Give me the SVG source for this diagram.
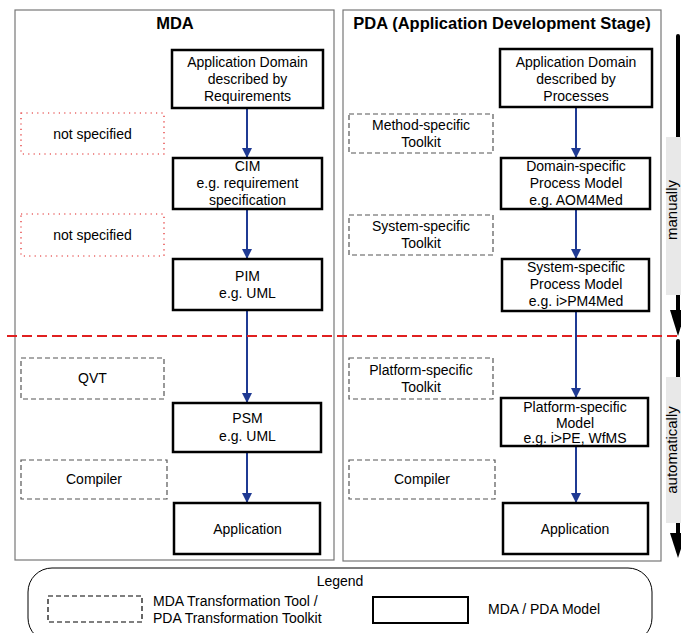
<svg xmlns="http://www.w3.org/2000/svg" width="681" height="633" viewBox="0 0 681 633">
<style>
text{font-family:"Liberation Sans",Arial,sans-serif;font-size:14px;fill:#000;text-anchor:middle}
.title{font-weight:bold;font-size:16.5px}
.panel{fill:none;stroke:#777;stroke-width:1.2}
.node{fill:#fff;stroke:#000;stroke-width:2.5}
.tool{fill:#fff;stroke:#555;stroke-width:1.2;stroke-dasharray:5 3}
.ns{fill:#fff;stroke:#e02020;stroke-width:1.2;stroke-dasharray:1.2 4.2}
.flow{stroke:#1f3a93;stroke-width:2;fill:none;marker-end:url(#ah)}
.bar{stroke:#000;stroke-width:4;stroke-linecap:round}
.lab{fill:#e8e8e8}
.side{font-size:15px}
.lt{text-anchor:start}
</style>
<defs>
<marker id="ah" viewBox="0 0 10 10" refX="10" refY="5" markerWidth="5" markerHeight="5" orient="auto" markerUnits="strokeWidth">
<path d="M0,0 L10,5 L0,10 z" fill="#1f3a93"/>
</marker>
</defs>
<rect width="681" height="633" fill="#fff"/>
<g id="panel-mda">
<rect class="panel" x="15" y="10" width="319" height="550"/>
<text class="title" x="175" y="29">MDA</text>
</g>
<g id="panel-pda">
<rect class="panel" x="343" y="10" width="318" height="551"/>
<text class="title" x="502" y="29">PDA (Application Development Stage)</text>
</g>
<g id="connectors">
<line class="flow" x1="247" y1="108" x2="247" y2="158"/>
<line class="flow" x1="247" y1="209" x2="247" y2="259"/>
<line class="flow" x1="247" y1="310" x2="247" y2="403"/>
<line class="flow" x1="247" y1="452" x2="247" y2="503"/>
<line class="flow" x1="576" y1="107" x2="576" y2="158"/>
<line class="flow" x1="576" y1="209" x2="576" y2="259"/>
<line class="flow" x1="576" y1="311" x2="576" y2="398"/>
<line class="flow" x1="576" y1="446" x2="576" y2="503"/>
</g>
<g id="mda-domain"><rect class="node" x="172" y="50" width="151" height="58"/>
<text x="247.5" y="67">Application Domain</text><text x="247.5" y="84">described by</text><text x="247.5" y="101">Requirements</text></g>
<g id="mda-cim"><rect class="node" x="173" y="158" width="149" height="51"/>
<text x="247.5" y="171">CIM</text><text x="247.5" y="188">e.g. requirement</text><text x="247.5" y="205">specification</text></g>
<g id="mda-pim"><rect class="node" x="173" y="259" width="149" height="51"/>
<text x="247.5" y="281">PIM</text><text x="247.5" y="298">e.g. UML</text></g>
<g id="mda-psm"><rect class="node" x="173" y="403" width="148" height="49"/>
<text x="247.5" y="423">PSM</text><text x="247.5" y="441">e.g. UML</text></g>
<g id="mda-app"><rect class="node" x="174" y="503" width="146" height="51"/>
<text x="247.5" y="534">Application</text></g>
<g id="mda-ns1"><rect class="ns" x="21" y="113" width="143" height="41"/><text x="92.5" y="139">not specified</text></g>
<g id="mda-ns2"><rect class="ns" x="21" y="214" width="143" height="42"/><text x="92.5" y="240">not specified</text></g>
<g id="mda-qvt"><rect class="tool" x="21" y="358" width="143" height="41"/><text x="92.5" y="383">QVT</text></g>
<g id="mda-compiler"><rect class="tool" x="21" y="460" width="146" height="39"/><text x="94" y="484">Compiler</text></g>
<g id="pda-domain"><rect class="node" x="500" y="49" width="152" height="58"/>
<text x="576" y="67">Application Domain</text><text x="576" y="84">described by</text><text x="576" y="101">Processes</text></g>
<g id="pda-dspm"><rect class="node" x="501" y="158" width="149" height="51"/>
<text x="576" y="171">Domain-specific</text><text x="576" y="188">Process Model</text><text x="576" y="205">e.g. AOM4Med</text></g>
<g id="pda-sspm"><rect class="node" x="502" y="259" width="147" height="52"/>
<text x="576" y="272">System-specific</text><text x="576" y="289">Process Model</text><text x="576" y="306">e.g. i&gt;PM4Med</text></g>
<g id="pda-psm"><rect class="node" x="501" y="398" width="147" height="48"/>
<text x="575" y="412">Platform-specific</text><text x="575" y="428">Model</text><text x="575" y="443">e.g. i&gt;PE, WfMS</text></g>
<g id="pda-app"><rect class="node" x="503" y="503" width="145" height="51"/>
<text x="575" y="534">Application</text></g>
<g id="pda-method"><rect class="tool" x="349" y="114" width="144" height="39"/><text x="421" y="130">Method-specific</text><text x="421" y="147">Toolkit</text></g>
<g id="pda-system"><rect class="tool" x="349" y="215" width="144" height="40"/><text x="421" y="231">System-specific</text><text x="421" y="248">Toolkit</text></g>
<g id="pda-platform"><rect class="tool" x="349" y="358" width="144" height="41"/><text x="421" y="375">Platform-specific</text><text x="421" y="392">Toolkit</text></g>
<g id="pda-compiler"><rect class="tool" x="349" y="460" width="146" height="39"/><text x="422" y="484">Compiler</text></g>
<g id="stage-divider"><line x1="7" y1="336" x2="681" y2="336" stroke="#e02020" stroke-width="2" stroke-dasharray="10 5"/></g>
<g id="side-manually">
<line class="bar" x1="678" y1="36" x2="678" y2="312"/>
<polygon points="670,310 686,310 678,336" fill="#000"/>
<rect class="lab" x="666" y="137" width="15" height="158"/>
<text class="side" transform="translate(677,210) rotate(-90)">manually</text>
</g>
<g id="side-automatically">
<line class="bar" x1="678" y1="341" x2="678" y2="535"/>
<polygon points="670,533 686,533 678,558" fill="#000"/>
<rect class="lab" x="666" y="377" width="15" height="146"/>
<text class="side" transform="translate(677,450) rotate(-90)">automatically</text>
</g>
<g id="legend">
<rect x="28" y="568" width="624" height="74" rx="24" ry="24" fill="none" stroke="#000" stroke-width="1"/>
<text x="340" y="586">Legend</text>
<rect class="tool" x="48" y="596" width="94" height="26" style="stroke:#000"/>
<text class="lt" x="153" y="606">MDA Transformation Tool /</text>
<text class="lt" x="153" y="623">PDA Transformation Toolkit</text>
<rect class="node" x="373" y="597" width="95" height="26" style="stroke-width:2"/>
<text class="lt" x="488" y="614">MDA / PDA Model</text>
</g>
</svg>
